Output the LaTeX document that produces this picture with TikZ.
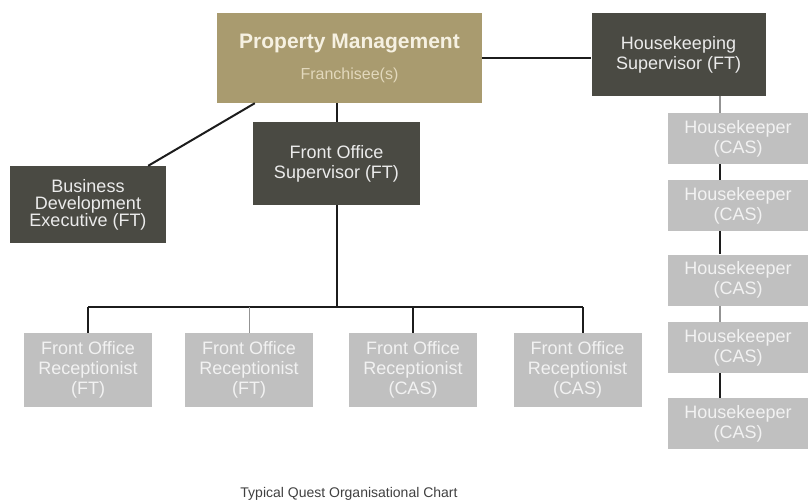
\documentclass[tikz,border=0pt]{standalone}
\usepackage{fontspec}
\setmainfont{Liberation Sans}
\definecolor{goldbox}{RGB}{169,155,111}
\definecolor{darkbox}{RGB}{74,74,67}
\definecolor{lightbox}{RGB}{192,192,192}
\definecolor{linkcol}{RGB}{28,28,28}
\definecolor{creamtext}{RGB}{246,241,226}
\definecolor{tantext}{RGB}{226,216,188}
\begin{document}
\begin{tikzpicture}[x=1pt,y=-1pt]
\tikzstyle{post}=[rectangle,inner sep=0pt,align=center]
\tikzstyle{gold post}=[post,fill=goldbox,text=creamtext]
\tikzstyle{dark post}=[post,fill=darkbox,text=black!8,font=\fontsize{18}{20}\selectfont]
\tikzstyle{light post}=[post,fill=lightbox,text=black!5,font=\fontsize{18}{20}\selectfont]
\tikzstyle{link}=[draw=linkcol,line width=2pt]
\tikzstyle{faint link}=[draw=gray!85,line width=1pt]

% Fix the page size
\useasboundingbox (0,0) rectangle (810,501);

% Draw the top boxes
\node[gold post,minimum width=265pt,minimum height=90pt,font=\fontsize{16}{31}\selectfont] (PM) at (349.5,58)
  {{\bfseries\fontsize{21}{31}\selectfont Property Management}\\
   {\color{tantext}Franchisee(s)}};
\node[dark post,minimum width=174pt,minimum height=83pt] (HS) at (678.5,54.5) {Housekeeping\\Supervisor (FT)};
\node[dark post,minimum width=167pt,minimum height=83pt] (FS) at (336.5,163.5) {Front Office\\Supervisor (FT)};
\node[dark post,minimum width=156pt,minimum height=77pt,font=\fontsize{18}{17}\selectfont] (BD) at (88,204.5) {Business\\Development\\Executive (FT)};

% Draw the receptionist boxes
\foreach \name/\x/\lvl in {1/88/FT,2/249/FT,3/413/CAS,4/577.5/CAS}
  \node[light post,minimum width=128pt,minimum height=74pt] (R-\name) at (\x,370) {Front Office\\Receptionist\\(\lvl)};

% Draw the housekeeper boxes
\foreach \name/\y in {1/138.5,2/205.5,3/280,4/347.5,5/423.5}
  \node[light post,minimum width=140pt,minimum height=51pt] (K-\name) at (738,\y) {Housekeeper\\(CAS)};

% Connect the management box with the supervisors
\draw[link] (PM.east) -- (PM.east -| HS.west);
\draw[link] (FS.north) -- (FS.north |- PM.south);
\draw[link] ([xshift=38pt]PM.south west) -- ([xshift=-18pt]BD.north east);

% Connect the front office supervisor with the receptionists
\coordinate (B-1) at (88,307);
\coordinate (B-4) at (583,307);
\draw[link] (FS.south) -- (FS.south |- B-1);
\draw[link,line width=2.5pt] (B-1) -- (B-4);
\draw[link] (R-1.north) -- (R-1.north |- B-1);
\draw[faint link] (R-2.north) -- (R-2.north |- B-1);
\draw[link,line width=1.5pt] (R-3.north) -- (R-3.north |- B-1);
\draw[link,line width=1.5pt] (B-4) -- (B-4 |- R-4.north);

% Connect the housekeeping supervisor with the housekeepers
\draw[faint link,line width=2pt] ([xshift=-18pt]K-1.north) -- ([xshift=-18pt]K-1.north |- HS.south);
\foreach \a/\b in {1/2,2/3,4/5}
  \draw[link] ([xshift=-18pt]K-\a.south) -- ([xshift=-18pt]K-\b.north);
\draw[faint link,line width=1.5pt] ([xshift=-18pt]K-3.south) -- ([xshift=-18pt]K-4.north);

% Caption
\node[font=\fontsize{14}{16}\selectfont,text=black!75] (caption) at (349,494) {Typical Quest Organisational Chart};

\end{tikzpicture}
\end{document}
